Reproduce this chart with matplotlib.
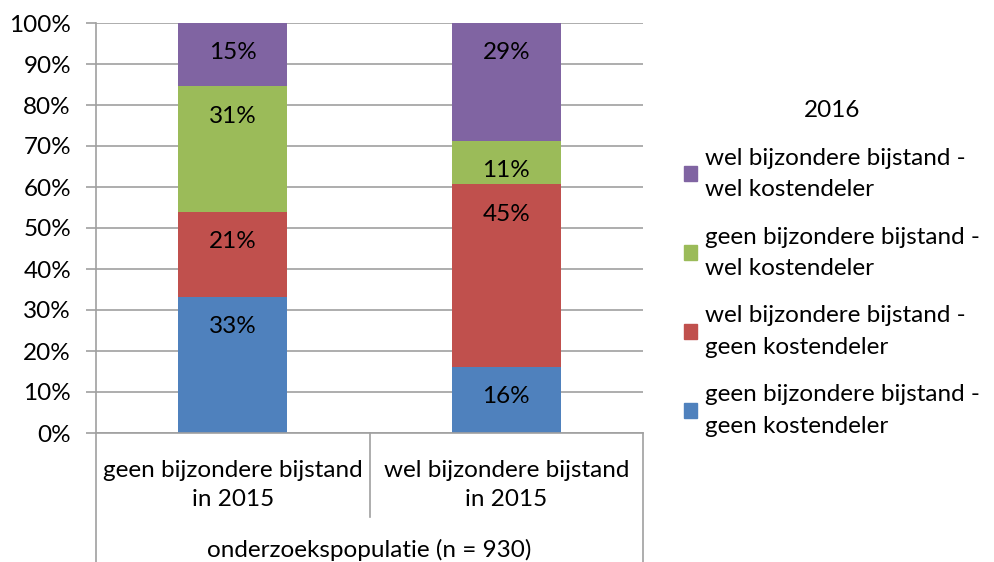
import numpy as np
import matplotlib.pyplot as plt
from matplotlib.patches import Patch

plt.rcParams['font.family'] = ['Lato', 'DejaVu Sans']

# Data
categories = ['geen bijzondere bijstand\nin 2015', 'wel bijzondere bijstand\nin 2015']
group_label = 'onderzoekspopulatie (n = 930)'
series_names = ['geen bijzondere bijstand -\ngeen kostendeler',
                'wel bijzondere bijstand -\ngeen kostendeler',
                'geen bijzondere bijstand -\nwel kostendeler',
                'wel bijzondere bijstand -\nwel kostendeler']
values = [[33.2, 16.1],
          [20.7, 44.6],
          [30.7, 10.6],
          [15.4, 28.7]]
colors = ['#4F81BD', '#C0504D', '#9BBB59', '#8064A2']

fs = 17.5
fig = plt.figure(figsize=(9.94, 5.62), dpi=100)
ax = fig.add_axes([96 / 994, 1 - 433 / 562, (643 - 96) / 994, 410 / 562])

x = np.arange(len(categories))
bottom = np.zeros(len(categories))
for name, vals, c in zip(series_names, values, colors):
    vals = np.array(vals)
    ax.bar(x, vals, 0.4, bottom=bottom, color=c, label=name, zorder=2)
    for xi, b, v in zip(x, bottom, vals):
        ax.text(xi, b + v - 7.3, f'{v:.0f}%', ha='center', va='center', fontsize=fs, color='black', zorder=3)
    bottom += vals

ax.set_xlim(-0.5, 1.5)
ax.set_ylim(0, 100)
ax.set_yticks(np.arange(0, 101, 10))
ax.set_yticklabels([f'{t}%' for t in range(0, 101, 10)], fontsize=fs)
ax.yaxis.grid(True, color='#A0A0A0', linewidth=1.2, zorder=0)
ax.tick_params(axis='y', length=7, color='#A0A0A0', width=1.2, pad=11)
ax.set_xticks([])
for s in ['top', 'right']:
    ax.spines[s].set_visible(False)
for s in ['left', 'bottom']:
    ax.spines[s].set_color('#A0A0A0')
    ax.spines[s].set_linewidth(1.2)

# multi-level category axis
tr = ax.get_xaxis_transform()
lc = '#A0A0A0'
ax.plot([-0.5, -0.5], [0, -0.33], transform=tr, color=lc, lw=1.2, clip_on=False)
ax.plot([1.5, 1.5], [0, -0.33], transform=tr, color=lc, lw=1.2, clip_on=False)
ax.plot([0.5, 0.5], [0, -0.205], transform=tr, color=lc, lw=1.2, clip_on=False)
for xi, lab in zip(x, categories):
    ax.text(xi, -0.127, lab, transform=tr, ha='center', va='center', fontsize=fs, linespacing=1.45)
ax.text(0.5, -0.285, group_label, transform=tr, ha='center', va='center', fontsize=fs)

handles = [Patch(color=c) for c in colors][::-1]
leg = fig.legend(handles, series_names[::-1], title='2016', loc='upper left',
                 bbox_to_anchor=(662 / 994, 1 - 78 / 562), frameon=False, fontsize=fs,
                 title_fontsize=fs, handlelength=0.55, handleheight=0.55, handletextpad=0.3,
                 labelspacing=1.1)
for t in leg.get_texts():
    t.set_linespacing(1.6)

fig.savefig('out.png', dpi=100)
